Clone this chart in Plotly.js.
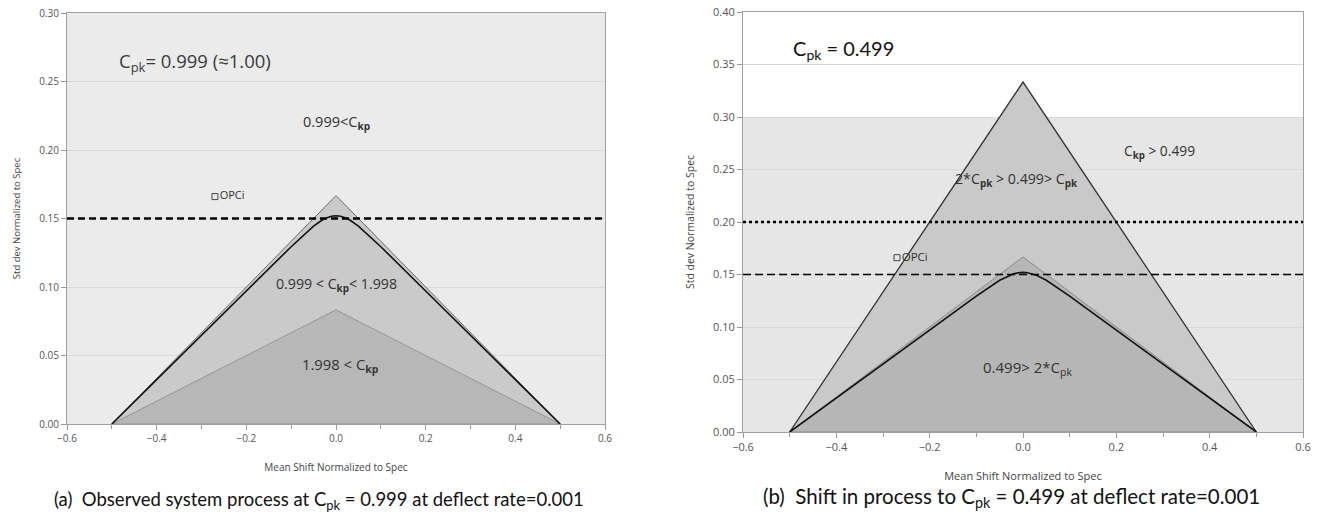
<!DOCTYPE html>
<html>
<head>
<meta charset="utf-8">
<script src="https://cdn.plot.ly/plotly-3.0.1.min.js"></script>
<style>html,body{margin:0;padding:0;background:#fff;}#chart{width:1319px;height:518px;}</style>
</head>
<body>
<div id="chart"></div>
<script>
// ---- data ----
const triX = [-0.5, 0, 0.5, -0.5];
const leftOuterY = [0, 0.1667, 0, 0];    // 0.999 < Ckp < 1.998 region
const leftInnerY = [0, 0.0833, 0, 0];    // 1.998 < Ckp region
const rightOuterY = [0, 0.3333, 0, 0];   // 2*Cpk > 0.499 > Cpk region
const rightInnerY = [0, 0.1667, 0, 0];   // 0.499 > 2*Cpk region
const curveX = [-0.5, -0.4, -0.3, -0.2, -0.1, -0.05, -0.03, -0.02, -0.01, 0, 0.01, 0.02, 0.03, 0.05, 0.1, 0.2, 0.3, 0.4, 0.5];
const curveY = [0, 0.0324, 0.0647, 0.0971, 0.1294, 0.1445, 0.1491, 0.1506, 0.1516, 0.152, 0.1516, 0.1506, 0.1491, 0.1445, 0.1294, 0.0971, 0.0647, 0.0324, 0];
const opciX = [-0.27];
const opciY = [0.166];
const lineSpan = [-0.6, 0.6];
const leftDashY = 0.15;
const rightDotY = 0.20;
const rightDashY = 0.15;
const rightShadeTop = 0.30;

const fontMain = "'Open Sans', 'DejaVu Sans', sans-serif";
const fontCap = "Lato, 'Open Sans', sans-serif";

function tri(xa, ya, y, fill, lc, lw) {
  return {x: triX, y: y, xaxis: xa, yaxis: ya, type: 'scatter', mode: 'lines', fill: 'toself',
    fillcolor: fill, line: {color: lc, width: lw}, hoverinfo: 'skip', showlegend: false};
}
function hline(xa, ya, yv, dash, w) {
  return {x: lineSpan, y: [yv, yv], xaxis: xa, yaxis: ya, type: 'scatter', mode: 'lines',
    line: {color: '#000', width: w, dash: dash}, showlegend: false, hoverinfo: 'skip'};
}
function curve(xa, ya) {
  return {x: curveX, y: curveY, xaxis: xa, yaxis: ya, type: 'scatter', mode: 'lines',
    line: {color: '#111', width: 1.6}, showlegend: false};
}
function opci(xa, ya, fs) {
  return {x: opciX, y: opciY, xaxis: xa, yaxis: ya, type: 'scatter', mode: 'markers+text',
    marker: {symbol: 'square-open', size: 6, color: '#444', line: {width: 1}},
    text: ['OPCi'], textposition: 'middle right', textfont: {family: fontMain, size: fs, color: '#333'},
    showlegend: false};
}

const data = [
  tri('x', 'y', leftOuterY, '#cacaca', '#6a6a6a', 1),
  tri('x', 'y', leftInnerY, '#b7b7b7', '#8a8a8a', 0.8),
  curve('x', 'y'),
  hline('x', 'y', leftDashY, '7px,4px', 2.5),
  opci('x', 'y', 11),
  tri('x2', 'y2', rightOuterY, '#c9c9c9', '#333', 1.3),
  tri('x2', 'y2', rightInnerY, '#b6b6b6', '#8a8a8a', 1),
  curve('x2', 'y2'),
  hline('x2', 'y2', rightDotY, 'dot', 2.5),
  hline('x2', 'y2', rightDashY, '8px,4px', 1.3),
  opci('x2', 'y2', 11.5)
];

function xax(dom, fs) {
  return {domain: dom, range: [-0.6, 0.6], dtick: 0.2, tick0: -0.6, tickformat: '.1f',
    ticks: 'outside', ticklen: 5, tickcolor: '#999', showline: true, linecolor: '#a0a0a0', linewidth: 1,
    mirror: true, showgrid: false, zeroline: false,
    minor: {dtick: 0.1, ticks: 'outside', ticklen: 4, tickcolor: '#999', showgrid: false},
    tickfont: {family: fontMain, size: fs, color: '#555'},
    title: {text: 'Mean Shift Normalized to Spec', font: {family: fontMain, size: fs, color: '#444'}, standoff: 19}};
}
function yax(dom, rng, fs, anchor) {
  return {domain: dom, range: rng, dtick: 0.05, tickformat: '.2f', anchor: anchor,
    ticks: 'outside', ticklen: 5, tickcolor: '#999', showline: true, linecolor: '#a0a0a0', linewidth: 1,
    mirror: true, showgrid: true, gridcolor: '#d9d9d9', gridwidth: 1, zeroline: false,
    tickfont: {family: fontMain, size: fs, color: '#555'},
    title: {text: 'Std dev Normalized to Spec', font: {family: fontMain, size: fs - 0.5, color: '#444'}, standoff: 16}};
}

const xa1 = xax([67/1319, 605/1319], 10); xa1.anchor = 'y';
const xa2 = xax([743/1319, 1303/1319], 11); xa2.anchor = 'y2';

const layout = {
  width: 1319, height: 518,
  margin: {l: 0, r: 0, t: 0, b: 0},
  paper_bgcolor: '#fff', plot_bgcolor: '#fff',
  showlegend: false,
  xaxis: xa1,
  yaxis: yax([(518-424)/518, (518-13)/518], [0, 0.3], 10, 'x'),
  xaxis2: xa2,
  yaxis2: yax([(518-432)/518, (518-12)/518], [0, 0.4], 11, 'x2'),
  shapes: [
    {type: 'rect', xref: 'x', yref: 'y', x0: -0.6, x1: 0.6, y0: 0, y1: 0.3, fillcolor: '#ebebeb', line: {width: 0}, layer: 'below'},
    {type: 'rect', xref: 'x2', yref: 'y2', x0: -0.6, x1: 0.6, y0: 0, y1: rightShadeTop, fillcolor: '#e6e6e6', line: {width: 0}, layer: 'below'}
  ],
  annotations: [
    {xref: 'x', yref: 'y', x: -0.315, y: 0.264, showarrow: false, text: 'C<sub>pk</sub>= 0.999 (≈1.00)', font: {family: fontMain, size: 18.5, color: '#3a3a3a'}},
    {xref: 'x', yref: 'y', x: 0.0, y: 0.22, showarrow: false, text: '0.999&lt;C<sub><b>kp</b></sub>', font: {family: fontMain, size: 14.5, color: '#333'}},
    {xref: 'x', yref: 'y', x: 0.0, y: 0.1015, showarrow: false, text: '0.999 &lt; C<sub><b>kp</b></sub>&lt; 1.998', font: {family: fontMain, size: 14.2, color: '#333'}},
    {xref: 'x', yref: 'y', x: 0.01, y: 0.043, showarrow: false, text: '1.998 &lt; C<sub><b>kp</b></sub>', font: {family: fontMain, size: 14.8, color: '#333'}},
    {xref: 'x2', yref: 'y2', x: -0.385, y: 0.364, showarrow: false, text: 'C<sub>pk</sub> = 0.499', font: {family: fontCap, size: 20, color: '#111'}},
    {xref: 'x2', yref: 'y2', x: 0.293, y: 0.267, showarrow: false, text: 'C<sub><b>kp</b></sub> &gt; 0.499', font: {family: fontMain, size: 13.8, color: '#333'}},
    {xref: 'x2', yref: 'y2', x: -0.013, y: 0.24, showarrow: false, text: '2*C<sub><b>pk</b></sub> &gt; 0.499&gt; C<sub><b>pk</b></sub>', font: {family: fontMain, size: 14.2, color: '#333'}},
    {xref: 'x2', yref: 'y2', x: 0.01, y: 0.061, showarrow: false, text: '0.499&gt; 2*C<sub>pk</sub>', font: {family: fontMain, size: 15, color: '#333'}},
    {xref: 'paper', yref: 'paper', x: 319/1319, y: 18/518, xanchor: 'center', yanchor: 'middle', showarrow: false,
      text: '(a)  Observed system process at C<sub>pk</sub> = 0.999 at deflect rate=0.001', font: {family: fontCap, size: 18.5, color: '#111'}},
    {xref: 'paper', yref: 'paper', x: 1011/1319, y: 21/518, xanchor: 'center', yanchor: 'middle', showarrow: false,
      text: '(b)  Shift in process to C<sub>pk</sub> = 0.499 at deflect rate=0.001', font: {family: fontCap, size: 20.5, color: '#111'}}
  ]
};

Plotly.newPlot('chart', data, layout, {displayModeBar: false, staticPlot: true});
</script>
</body>
</html>
